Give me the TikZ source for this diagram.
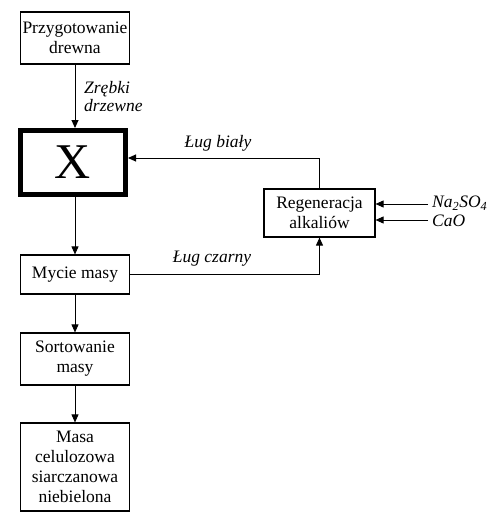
\documentclass[tikz,border=0pt]{standalone}
\usepackage{fontspec}
\setmainfont{Liberation Serif}
\usetikzlibrary{arrows.meta}
\begin{document}
\begin{tikzpicture}[x=1pt,y=-1pt,
  every node/.style={inner sep=0pt,font=\fontsize{17.5}{20}\selectfont},
  box/.style={draw,line width=1.2pt,align=center,minimum width=109pt},
  lbl/.style={font=\fontsize{17.5}{18}\selectfont\itshape,align=left},
  arr/.style={line width=0.9pt,-{Triangle[length=8pt,width=7pt]}}]
\useasboundingbox (0,0) rectangle (500,512);
\node[box,minimum height=52pt] (prep) at (75,38) {Przygotowanie\\drewna};
\node[draw,line width=5pt,minimum width=105pt,minimum height=64pt,font=\fontsize{50}{50}\selectfont] (X) at (73,162.5) {X};
\node[box,minimum height=39pt] (mycie) at (75,274.5) {Mycie masy};
\node[box,minimum height=52pt] (sort) at (75,359) {Sortowanie\\masy};
\node[box,minimum height=88pt] (masa) at (75,467) {Masa\\celulozowa\\siarczanowa\\niebielona};
\node[box,minimum width=111pt,minimum height=48pt] (regen) at (319.5,213) {Regeneracja\\alkaliów};
\draw[arr] (prep.south) -- (prep.south |- X.north);
\draw[arr] (X.south -| mycie.north) -- (mycie.north);
\draw[arr] (mycie.south) -- (sort.north);
\draw[arr] (sort.south) -- (masa.north);
\coordinate (wb) at (regen.north |- 0,158);
\draw[arr] (regen.north) -- (wb) -- (X.east |- wb);
\draw[arr] (mycie.east) -| (regen.south);
\coordinate (na) at (428,204);
\coordinate (ca) at (428,220);
\draw[arr] (na) -- (regen.east |- na);
\draw[arr] (ca) -- (regen.east |- ca);
\node[lbl,anchor=west] (zr) at (84,97) {Zrębki\\drzewne};
\node[lbl] (lb) at (218,143) {Ług biały};
\node[lbl] (lc) at (212,259) {Ług czarny};
\node[lbl,anchor=west] (nal) at (432,203) {Na\textsubscript{2}SO\textsubscript{4}};
\node[lbl,anchor=west] (cal) at (432,221) {CaO};
\end{tikzpicture}
\end{document}
